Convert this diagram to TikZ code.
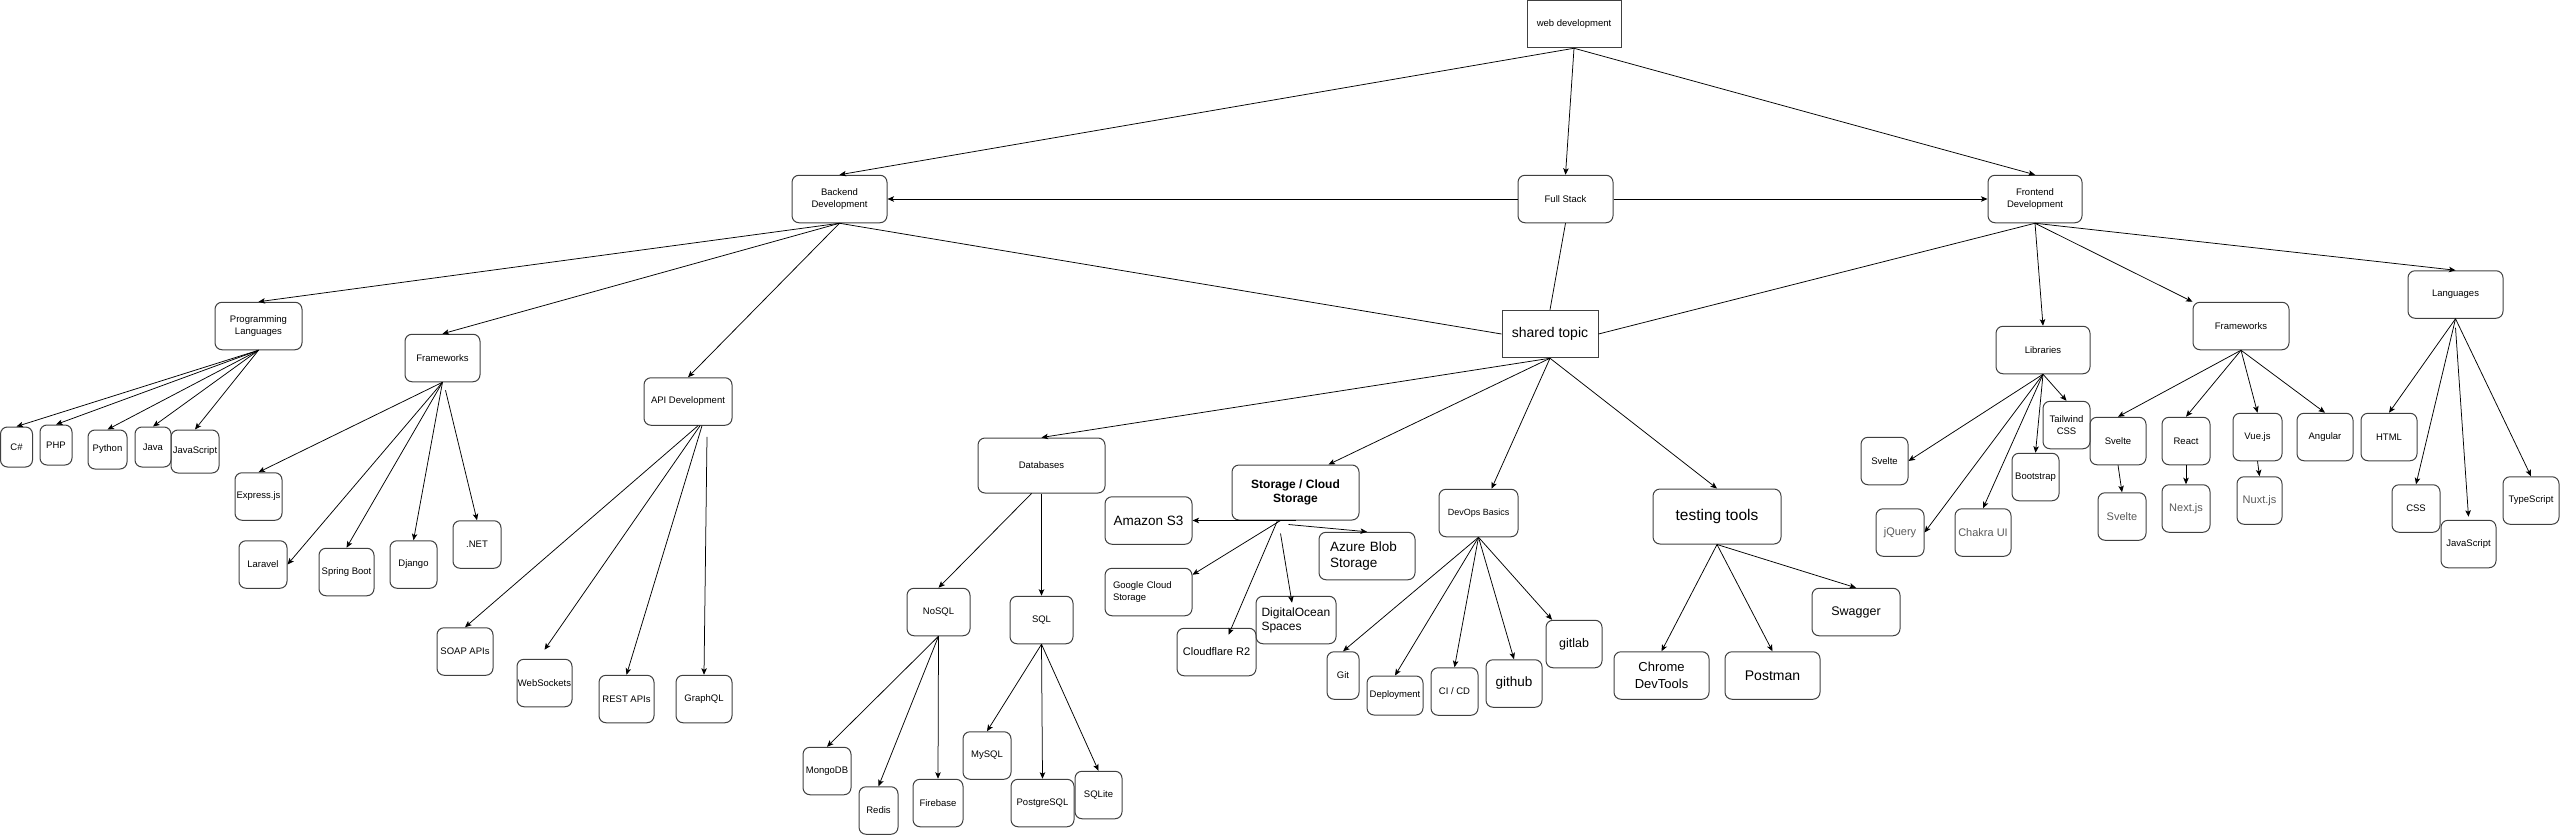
\documentclass[tikz,border=0pt]{standalone}
\usepackage{fontspec}
\setmainfont{Liberation Sans}
\usetikzlibrary{arrows.meta}

\begin{document}
\begin{tikzpicture}[
  x=1pt, y=-1pt,
  box/.style={draw=black!75, line width=1pt, rounded corners=7pt,
              align=center, inner sep=0pt, minimum width=#1,
              minimum height=47.5pt, font=\fontsize{9.5}{12}\selectfont},
  box/.default=48pt,
  sq/.style={box=#1, sharp corners},
  fnt/.style 2 args={font=\fontsize{#1}{#2}\selectfont},
  dim/.style={text=black!65, fnt={11}{13}},
  arr/.style={-{Stealth[length=6.5pt,width=5.5pt,inset=1.5pt]}, line width=0.75pt},
  link/.style={line width=0.75pt},
]
\useasboundingbox (0,0) rectangle (2560,835);

\node[sq=94pt] (web) at (1574,24) {web development};
\node[box=95pt] (full) at (1565.5,199) {Full Stack};
\node[box=95pt] (back) at (839.5,199) {Backend\\Development};
\node[box=94pt] (front) at (2035,199) {Frontend\\Development};
\node[sq=96pt, fnt={14}{16}] (shared) at (1550,334) {shared topic};

\node[box=87pt] (pl) at (258.5,326) {Programming\\Languages};
\node[box=75pt] (bfw) at (442.5,358) {Frameworks};
\node[box=88pt] (api) at (688,401.5) {API Development};
\node[box=32pt, minimum height=40pt] (cs) at (16.5,447) {C\#};
\node[box=32pt, minimum height=40pt] (php) at (56,445) {PHP};
\node[box=39pt, minimum height=39pt] (py) at (107.5,449.5) {Python};
\node[box=36pt, minimum height=40pt] (java) at (153,447) {Java};
\node[box=48pt, minimum height=43pt] (bjs) at (195,451.5) {JavaScript};
\node[box=47pt] (express) at (258.5,496.5) {Express.js};
\node[box=48pt] (laravel) at (263,564.5) {Laravel};
\node[box=55pt] (spring) at (346.5,572) {Spring Boot};
\node[box=47pt] (django) at (413.5,564.5) {Django};
\node[box=48pt] (dotnet) at (477,544.5) {.NET};
\node[box=56pt] (soap) at (465,651.5) {SOAP APIs};
\node[box=55pt] (ws) at (544.5,683) {WebSockets};
\node[box=55pt] (rest) at (626.5,699) {REST APIs};
\node[box=56pt] (gql) at (704,699) {GraphQL};

\node[box=127pt, minimum height=55pt] (db) at (1041.5,465.5) {Databases};
\node[box=63pt] (nosql) at (938.5,612) {NoSQL};
\node[box=63pt] (sql) at (1041.5,620) {SQL};
\node[box=48pt] (mongo) at (827,771) {MongoDB};
\node[box=39pt] (redis) at (878.5,810.5) {Redis};
\node[box=50pt] (firebase) at (938,803) {Firebase};
\node[box=48pt] (mysql) at (987,755.5) {MySQL};
\node[box=63pt] (pg) at (1042.5,803) {PostgreSQL};
\node[box=47pt] (sqlite) at (1098.5,795) {SQLite};
\node[box=127pt, minimum height=55pt, font=\fontsize{12}{14}\selectfont\bfseries] (stor) at (1295.5,492.5) {Storage / Cloud\\Storage};
\node[box=87pt, fnt={13.5}{16}] (s3) at (1148.5,520.5) {Amazon S3};
\node[box=87pt, align=left, text width=71pt, fnt={9.5}{11.5}] (gcs) at (1148.5,592) {Google Cloud\\Storage};
\node[box=79pt, fnt={11}{13}] (r2) at (1216.5,652) {Cloudflare R2};
\node[box=80pt, align=left, text width=69pt, fnt={12}{14}] (docean) at (1296,620) {DigitalOcean\\Spaces};
\node[box=96pt, align=left, text width=74pt, fnt={13.5}{16}] (azure) at (1367,556) {Azure Blob\\Storage};
\node[box=79pt, fnt={9}{11}] (devops) at (1478.5,513) {DevOps Basics};
\node[box=32pt] (git) at (1343,675.5) {Git};
\node[box=56pt, minimum height=39pt] (deploy) at (1395,695.5) {Deployment};
\node[box=47pt] (cicd) at (1454.5,691.5) {CI / CD};
\node[box=56pt, fnt={13.5}{16}] (github) at (1514,683.5) {github};
\node[box=56pt, fnt={12.5}{15}] (gitlab) at (1574,644) {gitlab};
\node[box=128pt, minimum height=55pt, fnt={15.5}{18}] (testing) at (1717,516.5) {testing tools};
\node[box=95pt, fnt={13}{16.5}] (chrome) at (1661.5,675.5) {Chrome\\DevTools};
\node[box=95pt, fnt={14}{16}] (postman) at (1772.5,675.5) {Postman};
\node[box=88pt, fnt={12.5}{15}] (swagger) at (1856,612) {Swagger};

\node[box=94pt] (lib) at (2043,350) {Libraries};
\node[box=96pt] (ffw) at (2241,326) {Frameworks};
\node[box=95pt] (lang) at (2455.5,294.5) {Languages};
\node[box=47pt] (sv1) at (1884.5,461) {Svelte};
\node[box=48pt, dim] (jq) at (1900,532.5) {jQuery};
\node[box=56pt, dim] (chakra) at (1983,532.5) {Chakra UI};
\node[box=47pt] (boot) at (2035.5,477) {Bootstrap};
\node[box=47pt] (tw) at (2066.5,425) {Tailwind\\CSS};
\node[box=56pt] (sv2) at (2118,441) {Svelte};
\node[box=48pt, dim] (sv3) at (2122,516.5) {Svelte};
\node[box=48pt] (react) at (2186,441) {React};
\node[box=48pt, dim] (next) at (2186,508.5) {Next.js};
\node[box=49pt] (vue) at (2257.5,437) {Vue.js};
\node[box=45pt, dim] (nuxt) at (2259.5,500.5) {Nuxt.js};
\node[box=56pt] (angular) at (2325,437) {Angular};
\node[box=56pt] (html) at (2389,437) {HTML};
\node[box=48pt] (css) at (2416,508.5) {CSS};
\node[box=55pt] (fjs) at (2468.5,544) {JavaScript};
\node[box=56pt] (ts) at (2531,500.5) {TypeScript};

\draw[arr] (web.south) -- (back.north);
\draw[arr] (web.south) -- (full.north);
\draw[arr] (web.south) -- (front.north);
\draw[arr] (full.west) -- (back.east);
\draw[arr] (full.east) -- (front.west);
\draw[link] (full.south) -- (shared.north);
\draw[link] (back.south) -- (shared.west);
\draw[link] (front.south) -- (shared.east);

\draw[arr] (back.south) -- (pl.north);
\draw[arr] (back.south) -- (bfw.north);
\draw[arr] (back.south) -- (api.north);
\draw[arr] (pl.south) -- (cs.north);
\draw[arr] (pl.south) -- (php.north);
\draw[arr] (pl.south) -- (py.north);
\draw[arr] (pl.south) -- (java.north);
\draw[arr] (pl.south) -- (bjs.north);
\draw[arr] (bfw.south) -- (express.north);
\draw[arr] (bfw.south) -- (laravel.east);
\draw[arr] (bfw.south) -- (spring.north);
\draw[arr] (bfw.south) -- (django.north);
\draw[arr] ([shift={(3,8)}]bfw.south) -- (dotnet.north);
\draw[arr] ([xshift=10pt]api.south) -- (soap.north);
\draw[arr] ([xshift=12pt]api.south) -- ([yshift=9pt]ws.north);
\draw[arr] ([xshift=14pt]api.south) -- (rest.north);
\draw[arr] ([shift={(19,11)}]api.south) -- (gql.north);

\draw[arr] (shared.south) -- (db.north);
\draw[arr] (shared.south) -- ([xshift=33pt]stor.north);
\draw[arr] (shared.south) -- ([xshift=13pt]devops.north);
\draw[arr] (shared.south) -- (testing.north);
\draw[arr] ([xshift=-10pt]db.south) -- (nosql.north);
\draw[arr] (db.south) -- (sql.north);
\draw[arr] (nosql.south) -- (mongo.north);
\draw[arr] (nosql.south) -- (redis.north);
\draw[arr] (nosql.south) -- (firebase.north);
\draw[arr] (sql.south) -- (mysql.north);
\draw[arr] (sql.south) -- (pg.north);
\draw[arr] (sql.south) -- (sqlite.north);
\draw[arr] (stor.south) -- (s3.east);
\draw[arr] ([xshift=-15pt]stor.south) -- ([yshift=-7pt]gcs.north east);
\draw[arr] ([xshift=-18pt]stor.south) -- ([shift={(12,7)}]r2.north);
\draw[arr] ([shift={(-15,13)}]stor.south) -- ([shift={(-4,7)}]docean.north);
\draw[arr] ([shift={(-7,4)}]stor.south) -- (azure.north);
\draw[arr] (devops.south) -- (git.north);
\draw[arr] (devops.south) -- (deploy.north);
\draw[arr] (devops.south) -- (cicd.north);
\draw[arr] (devops.south) -- (github.north);
\draw[arr] (devops.south) -- ([xshift=-22pt]gitlab.north);
\draw[arr] (testing.south) -- (chrome.north);
\draw[arr] (testing.south) -- (postman.north);
\draw[arr] (testing.south) -- (swagger.north);

\draw[arr] (front.south) -- (lib.north);
\draw[arr] (front.south) -- (ffw.north west);
\draw[arr] (front.south) -- (lang.north);
\draw[arr] (lib.south) -- (sv1.east);
\draw[arr] (lib.south) -- (jq.east);
\draw[arr] (lib.south) -- (chakra.north);
\draw[arr] (lib.south) -- (boot.north);
\draw[arr] (lib.south) -- (tw.north);
\draw[arr] (ffw.south) -- (sv2.north);
\draw[arr] (ffw.south) -- (react.north);
\draw[arr] (ffw.south) -- (vue.north);
\draw[arr] (ffw.south) -- (angular.north);
\draw[arr] (sv2.south) -- (sv3.north);
\draw[arr] (react.south) -- (next.north);
\draw[arr] (vue.south) -- (nuxt.north);
\draw[arr] (lang.south) -- (html.north);
\draw[arr] (lang.south) -- (css.north);
\draw[arr] ([yshift=-9pt]lang.south) -- ([yshift=3pt]fjs.north);
\draw[arr] (lang.south) -- (ts.north);
\end{tikzpicture}
\end{document}
